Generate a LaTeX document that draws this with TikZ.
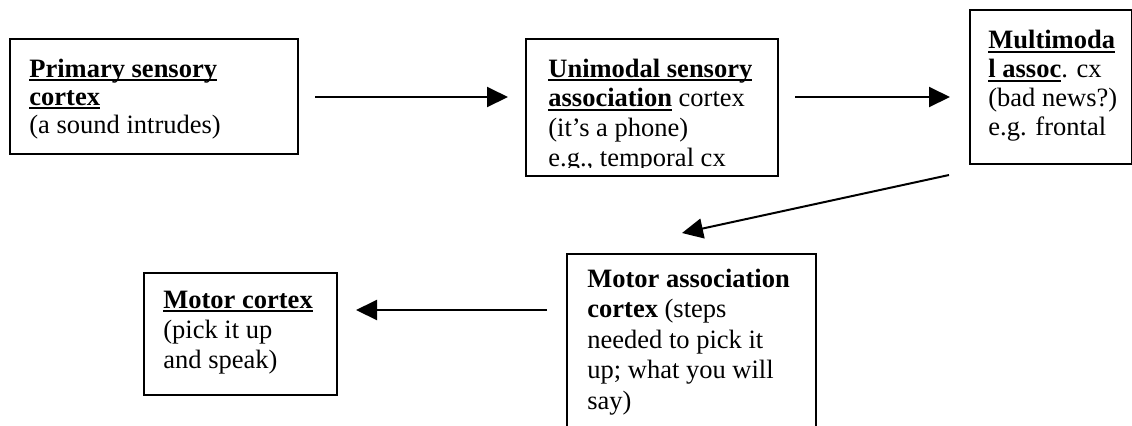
\documentclass[tikz,border=0pt]{standalone}
\usepackage{fontspec}
\setmainfont{Liberation Serif}
\usetikzlibrary{arrows.meta}
\newsavebox{\myulbox}
\newcommand{\myul}[1]{\sbox{\myulbox}{#1}\rlap{\rule[-2.1pt]{\wd\myulbox}{1.1pt}}\usebox{\myulbox}}
\tikzset{
  box/.style={draw=black, line width=1pt, fill=white, rectangle, inner sep=0pt, anchor=north west},
  txt/.style={anchor=base west, align=left, inner sep=0pt, font=\fontsize{13.25}{14}\selectfont},
  conn/.style={line width=1pt, -{Triangle[length=10.5pt,width=10pt]}}
}
\begin{document}
\begin{tikzpicture}[x=0.5pt,y=-0.5pt]
\fill[white] (0,0) rectangle (1132,425);
\begin{scope}
\clip (0,0) rectangle (1132,425);
% boxes
\node[box, minimum width=144pt, minimum height=57.5pt] (b1) at (9,38) {};
\node[box, minimum width=126pt, minimum height=68.5pt] (b2) at (525,38) {};
\node[box, minimum width=81pt, minimum height=77pt] (b3) at (969,9) {};
\node[box, minimum width=96.5pt, minimum height=61pt] (b4) at (143,272) {};
\node[box, minimum width=124.5pt, minimum height=93.5pt] (b5) at (566,253) {};
% texts (anchored at the baseline of their last line)
\node[txt] (t1) at (29,133) {\myul{\textbf{Primary sensory}}\\\myul{\textbf{cortex}}\\(a sound intrudes)};
\begin{scope}
\clip (525,38) rectangle (777,167);
\node[txt, font=\fontsize{13.25}{14.83}\selectfont] (t2) at (548,166) {\myul{\textbf{Unimodal sensory}}\\\myul{\textbf{association}} cortex\\(it’s a phone)\\e.g., temporal cx};
\end{scope}
\node[txt, font=\fontsize{13.25}{14.35}\selectfont] (t3) at (988,135) {\myul{\textbf{Multimoda}}\\\myul{\textbf{l assoc}}. cx\\(bad news?)\\e.g. frontal};
\node[txt, font=\fontsize{13.25}{15}\selectfont] (t4) at (163,368) {\myul{\textbf{Motor cortex}}\\(pick it up\\and speak)};
\node[txt, font=\fontsize{13.25}{15.3}\selectfont] (t5) at (587,409.4) {\textbf{Motor association}\\\textbf{cortex} (steps\\needed to pick it\\up; what you will\\say)};
% connector ends
\coordinate (a1s) at (315,97);
\coordinate (a1e) at (508,97);
\coordinate (a2s) at (795,97);
\coordinate (a2e) at (950,97);
\coordinate (a3s) at (949,175);
\coordinate (a3e) at (682,233);
\coordinate (a4s) at (547,310);
\coordinate (a4e) at (356,310);
\draw[conn] (a1s) -- (a1e);
\draw[conn] (a2s) -- (a2e);
\draw[conn] (a3s) -- (a3e);
\draw[conn] (a4s) -- (a4e);
\end{scope}
\pgfresetboundingbox
\useasboundingbox (0,0) rectangle (1132,425);
\end{tikzpicture}
\end{document}
